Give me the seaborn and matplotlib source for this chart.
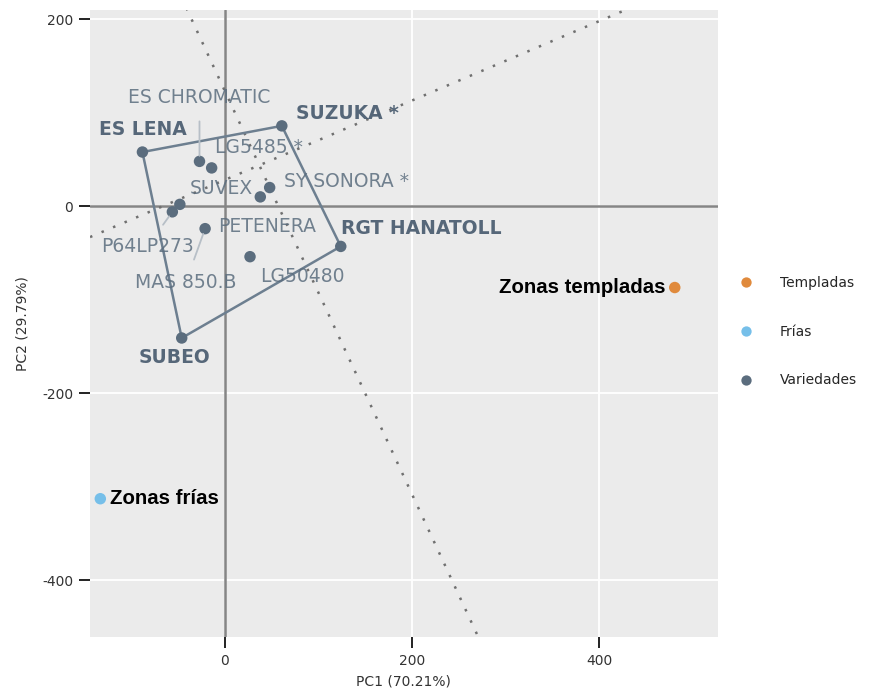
import numpy as np
import pandas as pd
import matplotlib
matplotlib.use("Agg")
import matplotlib.pyplot as plt
import seaborn as sns

# varieties (PCA scores)
varieties = ["ES LENA", "SUZUKA *", "RGT HANATOLL", "SUBEO", "ES CHROMATIC",
             "LG5485 *", "SY SONORA *", "SUVEX", "PETENERA", "P64LP273",
             "MAS 850.B", "LG50480"]
var_pc1 = [-88, 61, 124, -46, -27, -14, 48, 38, -48, -56, -21, 27]
var_pc2 = [58, 86, -43, -141, 48, 41, 20, 10, 2, -6, -24, -54]

# environments
zones = ["Zonas templadas", "Zonas frías"]
zone_groups = ["Templadas", "Frías"]
zone_pc1 = [481, -133]
zone_pc2 = [-87, -313]

# convex hull (vertex varieties)
hull = ["ES LENA", "SUZUKA *", "RGT HANATOLL", "SUBEO", "ES LENA"]
bold_labels = ["ES LENA", "SUZUKA *", "RGT HANATOLL", "SUBEO"]

# dotted reference lines (end points)
line1_x = [-41, 271]
line1_y = [212, -461]
line2_x = [-144, 433]
line2_y = [-33, 212]

# label offsets (points) and whether a segment is drawn
label_offsets = {
    "ES LENA": (0, 16), "SUZUKA *": (47, 9), "RGT HANATOLL": (58, 13),
    "SUBEO": (-5, -14), "ES CHROMATIC": (0, 46), "LG5485 *": (34, 15),
    "SY SONORA *": (55, 4), "SUVEX": (-28, 6), "PETENERA": (63, -16),
    "P64LP273": (-18, -25), "MAS 850.B": (-14, -39), "LG50480": (38, -14),
}
segment_labels = ["ES CHROMATIC", "P64LP273", "MAS 850.B"]

df = pd.DataFrame({
    "PC1": zone_pc1 + var_pc1,
    "PC2": zone_pc2 + var_pc2,
    "name": zones + varieties,
    "grupo": zone_groups + ["Variedades"] * len(varieties),
})

palette = {"Templadas": "#e08a3c", "Frías": "#76bfe9", "Variedades": "#5b6d7e"}
text_col = "#5b6d7e"

sns.set_theme(style="darkgrid")
plt.rcParams["font.family"] = ["DejaVu Sans"]

fig = plt.figure(figsize=(8.69, 6.94), dpi=100)
ax = fig.add_axes([0.1036, 0.0821, 0.7224, 0.9035])
ax.set_facecolor("#ebebeb")

ax.axhline(0, color="#858585", lw=1.8, zorder=1)
ax.axvline(0, color="#858585", lw=1.8, zorder=1)
ax.plot(line1_x, line1_y, ls=(0, (1, 4)), color="#707070", lw=1.8, zorder=1)
ax.plot(line2_x, line2_y, ls=(0, (1, 4)), color="#707070", lw=1.8, zorder=1)

pos = dict(zip(varieties, zip(var_pc1, var_pc2)))
ax.plot([pos[n][0] for n in hull], [pos[n][1] for n in hull],
        color="#6d7f90", lw=1.8, zorder=2)

sns.scatterplot(data=df, x="PC1", y="PC2", hue="grupo",
                hue_order=["Templadas", "Frías", "Variedades"],
                palette=palette, s=68, linewidth=0, ax=ax, zorder=3)

for n, x, y in zip(varieties, var_pc1, var_pc2):
    bold = n in bold_labels
    arrow = dict(arrowstyle="-", color="#b7bfc7", lw=1.3, shrinkA=8, shrinkB=4) \
        if n in segment_labels else None
    ax.annotate(n, (x, y), xytext=label_offsets[n], textcoords="offset points",
                ha="center", va="center", fontsize=13.5,
                fontweight="bold" if bold else "normal",
                color="#4e6073" if bold else text_col, alpha=0.95 if bold else 0.85,
                arrowprops=arrow, zorder=4)

for n, x, y, ha, dx in zip(zones, zone_pc1, zone_pc2, ["right", "left"], [-7, 7]):
    ax.annotate(n, (x, y), xytext=(dx, 0), textcoords="offset points",
                ha=ha, va="center", fontsize=14.7, fontweight="bold",
                family="Liberation Sans", color="black", zorder=4)

ax.set_xlim(-144, 527)
ax.set_ylim(-461, 210)
ax.set_xticks([0, 200, 400])
ax.set_yticks([-400, -200, 0, 200])
ax.set_yticklabels(["-400", "-200", "0", "200"])
ax.grid(True, color="white", lw=1.3)
for s in ax.spines.values():
    s.set_visible(False)
ax.tick_params(axis="both", bottom=True, left=True, length=8, width=1.4,
               color="#222222", labelsize=10, labelcolor="#333333", pad=4)
ax.set_xlabel("PC1 (70.21%)", fontsize=10, color="#333333", labelpad=5)
ax.set_ylabel("PC2 (29.79%)", fontsize=10, color="#333333", labelpad=9)

sns.move_legend(ax, "center left", bbox_to_anchor=(0.851, 0.522),
                bbox_transform=fig.transFigure, title=None, frameon=False,
                fontsize=10, handlelength=1, handletextpad=1.9,
                labelspacing=2.5, borderpad=0, borderaxespad=0, markerscale=0.9)

fig.savefig("out.png", dpi=100, facecolor="white")
